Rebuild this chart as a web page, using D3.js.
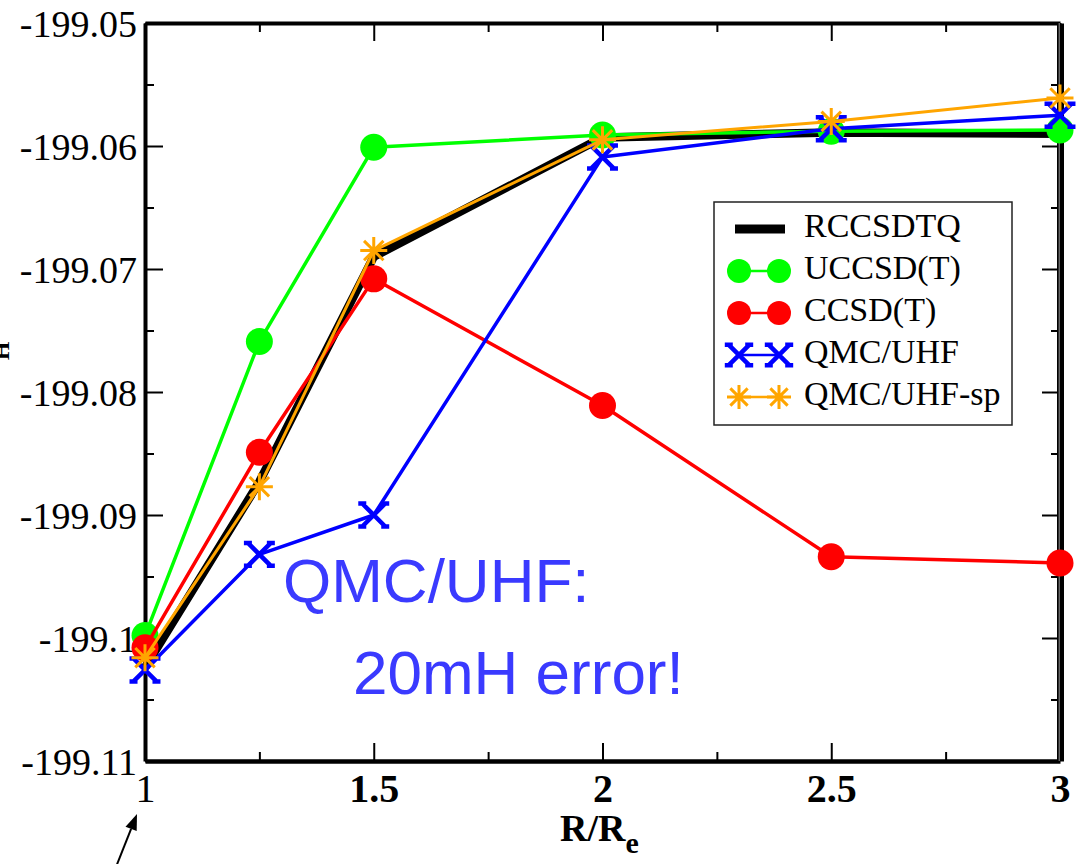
<!DOCTYPE html>
<html>
<head>
<meta charset="utf-8">
<script src="https://cdn.jsdelivr.net/npm/d3@7"></script>
<style>
  html, body { margin: 0; padding: 0; background: #ffffff; }
  svg { display: block; }
</style>
</head>
<body>
<div id="chart"></div>
<script>
// ---- data ----
const xValues = [1, 1.25, 1.5, 2, 2.5, 3];
const rccsdtq = [-199.1024, -199.0873, -199.0690, -199.0593, -199.0589, -199.0590];
const uccsdt = [-199.0998, -199.0759, -199.0601, -199.0591, -199.0588, -199.0587];
const ccsdt = [-199.1008, -199.0849, -199.0708, -199.0811, -199.0934, -199.0939];
const qmcUhf = [-199.1026, -199.0932, -199.0900, -199.0609, -199.0586, -199.0575];
const qmcUhfSp = [-199.1016, -199.0877, -199.0685, -199.0595, -199.0580, -199.0561];

const seriesNames = ['RCCSDTQ', 'UCCSD(T)', 'CCSD(T)', 'QMC/UHF', 'QMC/UHF-sp'];
const xMajorTicks = [1, 1.5, 2, 2.5, 3];
const xMinorTicks = [1.25, 1.75, 2.25, 2.75];
const xTickLabels = ['1', '1.5', '2', '2.5', '3'];
const yMajorTicks = [-199.11, -199.1, -199.09, -199.08, -199.07, -199.06, -199.05];
const yMinorTicks = [-199.105, -199.095, -199.085, -199.075, -199.065, -199.055];
const yTickLabels = ['-199.11', '-199.1', '-199.09', '-199.08', '-199.07', '-199.06', '-199.05'];
const noteLines = ['QMC/UHF:', '20mH error!'];

(function() {
  'use strict';

  const width = 1088;
  const height = 864;
  const left = 145, right = 1060, top = 23, bottom = 761;
  const serif = '"Liberation Serif", "Times New Roman", serif';

  const svg = d3.select('#chart')
    .append('svg')
    .attr('width', width)
    .attr('height', height)
    .style('background', '#ffffff');

  const x = d3.scaleLinear().domain([1, 3]).range([left, right]);
  const y = d3.scaleLinear().domain([-199.11, -199.05]).range([bottom, top]);

  // styles per series
  const styles = [
    { values: rccsdtq, color: '#000000', width: 8.5, symbol: null },
    { values: uccsdt, color: '#00ff00', width: 3.5, symbol: 'circle' },
    { values: ccsdt, color: '#ff0000', width: 3.5, symbol: 'circle' },
    { values: qmcUhf, color: '#0000ff', width: 3.5, symbol: 'x' },
    { values: qmcUhfSp, color: '#ffa500', width: 3, symbol: 'star' }
  ];

  function drawSymbol(g, kind, color, cx, cy, size) {
    if (kind === 'circle') {
      g.append('circle')
        .attr('cx', cx).attr('cy', cy).attr('r', size)
        .attr('fill', color);
    } else if (kind === 'x') {
      const s = size * 0.85;
      const se = 4;
      g.append('path')
        .attr('d', `M${cx - s},${cy - s}L${cx + s},${cy + s}M${cx - s},${cy + s}L${cx + s},${cy - s}` +
          `M${cx - s - se},${cy - s}H${cx - s + se}M${cx + s - se},${cy - s}H${cx + s + se}` +
          `M${cx - s - se},${cy + s}H${cx - s + se}M${cx + s - se},${cy + s}H${cx + s + se}`)
        .attr('stroke', color)
        .attr('stroke-width', 4.5)
        .attr('fill', 'none');
    } else if (kind === 'star') {
      const s = size;
      const d = s * 0.72;
      g.append('path')
        .attr('d', `M${cx - s},${cy}H${cx + s}M${cx},${cy - s}V${cy + s}` +
          `M${cx - d},${cy - d}L${cx + d},${cy + d}M${cx - d},${cy + d}L${cx + d},${cy - d}`)
        .attr('stroke', color)
        .attr('stroke-width', 3)
        .attr('fill', 'none');
    }
  }

  // ---- axes ----
  function styleAxis(g, lineWidth) {
    g.select('.domain').attr('stroke', '#000').attr('stroke-width', lineWidth);
    g.selectAll('.tick line').attr('stroke', '#000').attr('stroke-width', 2);
  }

  // minor ticks (all four sides)
  svg.append('g')
    .attr('transform', `translate(0,${bottom})`)
    .call(d3.axisBottom(x).tickValues(xMinorTicks).tickSize(-9).tickSizeOuter(0).tickFormat(''))
    .call(g => g.select('.domain').remove())
    .call(g => styleAxis(g, 0));
  svg.append('g')
    .attr('transform', `translate(0,${top})`)
    .call(d3.axisTop(x).tickValues(xMinorTicks).tickSize(-9).tickSizeOuter(0).tickFormat(''))
    .call(g => g.select('.domain').remove())
    .call(g => styleAxis(g, 0));
  svg.append('g')
    .attr('transform', `translate(${left},0)`)
    .call(d3.axisLeft(y).tickValues(yMinorTicks).tickSize(-9).tickSizeOuter(0).tickFormat(''))
    .call(g => g.select('.domain').remove())
    .call(g => styleAxis(g, 0));
  svg.append('g')
    .attr('transform', `translate(${right},0)`)
    .call(d3.axisRight(y).tickValues(yMinorTicks).tickSize(-9).tickSizeOuter(0).tickFormat(''))
    .call(g => g.select('.domain').remove())
    .call(g => styleAxis(g, 0));

  // major ticks + frame
  const xAxis = svg.append('g')
    .attr('transform', `translate(0,${bottom})`)
    .call(d3.axisBottom(x).tickValues(xMajorTicks).tickSize(-18).tickSizeOuter(0)
      .tickPadding(10)
      .tickFormat((d, i) => xTickLabels[i]))
    .call(g => styleAxis(g, 4.5));
  xAxis.selectAll('.tick text')
    .attr('y', 41)
    .attr('dy', null)
    .attr('fill', '#000')
    .style('font-family', serif)
    .style('font-size', '40px')
    .style('font-weight', (d, i) => i === 0 ? 'normal' : 'bold');

  svg.append('g')
    .attr('transform', `translate(0,${top})`)
    .call(d3.axisTop(x).tickValues(xMajorTicks).tickSize(-18).tickSizeOuter(0).tickFormat(''))
    .call(g => styleAxis(g, 4));

  const yAxis = svg.append('g')
    .attr('transform', `translate(${left},0)`)
    .call(d3.axisLeft(y).tickValues(yMajorTicks).tickSize(-18).tickSizeOuter(0)
      .tickPadding(8)
      .tickFormat((d, i) => yTickLabels[i]))
    .call(g => styleAxis(g, 4));
  yAxis.selectAll('.tick text')
    .attr('fill', '#000')
    .attr('dy', '0.36em')
    .style('font-family', serif)
    .style('font-size', '38px');

  svg.append('g')
    .attr('transform', `translate(${right},0)`)
    .call(d3.axisRight(y).tickValues(yMajorTicks).tickSize(-18).tickSizeOuter(0).tickFormat(''))
    .call(g => styleAxis(g, 7));

  // faint seam in the doubled right frame line
  svg.append('line')
    .attr('x1', right - 0.8).attr('x2', right - 0.8)
    .attr('y1', top).attr('y2', bottom)
    .attr('stroke', '#bbbbbb')
    .attr('stroke-width', 0.8);

  // x axis title
  const xTitle = svg.append('text')
    .attr('x', 560)
    .attr('y', 841)
    .attr('fill', '#000')
    .style('font-family', serif)
    .style('font-size', '38px')
    .style('font-weight', 'bold')
    .text('R/R');
  xTitle.append('tspan')
    .attr('dy', 12)
    .style('font-size', '30px')
    .text('e');

  // y axis title, cut off at the left edge (as in the reference)
  const yTitle = svg.append('text')
    .attr('transform', 'translate(-1,387) rotate(-90)')
    .attr('fill', '#000')
    .style('font-family', serif)
    .style('font-size', '40px')
    .style('font-weight', 'bold')
    .text('E');
  yTitle.append('tspan')
    .attr('dy', 10)
    .style('font-size', '24px')
    .text('H');

  // ---- series ----
  const line = d3.line()
    .x((d, i) => x(xValues[i]))
    .y(d => y(d));

  const plot = svg.append('g').attr('class', 'series');
  styles.forEach(s => {
    const g = plot.append('g');
    g.append('path')
      .datum(s.values)
      .attr('d', line)
      .attr('fill', 'none')
      .attr('stroke', s.color)
      .attr('stroke-width', s.width)
      .attr('stroke-linejoin', 'round');
    if (s.symbol) {
      s.values.forEach((v, i) => {
        drawSymbol(g, s.symbol, s.color, x(xValues[i]), y(v), 13.5);
      });
    }
  });

  // ---- annotation ----
  const noteFont = '"Liberation Sans", Arial, sans-serif';
  svg.append('text')
    .attr('x', 283).attr('y', 602)
    .attr('fill', '#3a3aff')
    .style('font-family', noteFont)
    .style('font-size', '62px')
    .text(noteLines[0]);
  svg.append('text')
    .attr('x', 353).attr('y', 694)
    .attr('fill', '#3a3aff')
    .style('font-family', noteFont)
    .style('font-size', '62px')
    .text(noteLines[1]);

  // arrow pointing at R/Re = 1
  const tail = [114, 872];
  const tip = [137, 814];
  const ang = Math.atan2(tip[1] - tail[1], tip[0] - tail[0]);
  const headLen = 16, headW = 6;
  const bx = tip[0] - headLen * Math.cos(ang), by = tip[1] - headLen * Math.sin(ang);
  svg.append('line')
    .attr('x1', tail[0]).attr('y1', tail[1])
    .attr('x2', bx).attr('y2', by)
    .attr('stroke', '#000').attr('stroke-width', 2);
  svg.append('path')
    .attr('d', `M${tip[0]},${tip[1]}` +
      `L${bx + headW * Math.sin(ang)},${by - headW * Math.cos(ang)}` +
      `L${bx - headW * Math.sin(ang)},${by + headW * Math.cos(ang)}Z`)
    .attr('fill', '#000');

  // ---- legend ----
  const lg = svg.append('g').attr('class', 'legend');
  lg.append('rect')
    .attr('x', 714).attr('y', 202)
    .attr('width', 298).attr('height', 223)
    .attr('fill', '#ffffff')
    .attr('stroke', '#222')
    .attr('stroke-width', 1.5);

  seriesNames.forEach((name, i) => {
    const s = styles[i];
    const cy = 229 + i * 42;
    if (s.symbol) {
      lg.append('line')
        .attr('x1', 739).attr('x2', 779)
        .attr('y1', cy).attr('y2', cy)
        .attr('stroke', s.color)
        .attr('stroke-width', 2.5);
      drawSymbol(lg, s.symbol, s.color, 739, cy, 12);
      drawSymbol(lg, s.symbol, s.color, 779, cy, 12);
    } else {
      lg.append('line')
        .attr('x1', 735).attr('x2', 785)
        .attr('y1', cy).attr('y2', cy)
        .attr('stroke', s.color)
        .attr('stroke-width', 9);
    }
    lg.append('text')
      .attr('x', 804)
      .attr('y', cy + 8)
      .attr('fill', '#000')
      .style('font-family', serif)
      .style('font-size', '34px')
      .text(name);
  });
})();
</script>
</body>
</html>
